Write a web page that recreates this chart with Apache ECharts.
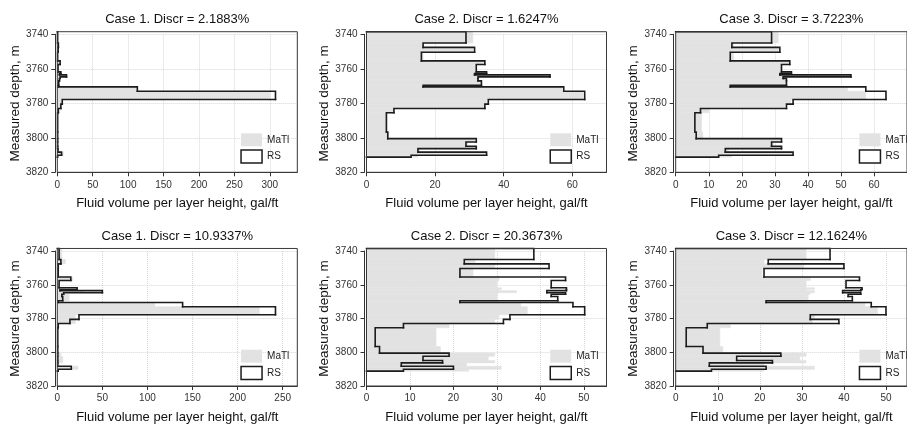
<!DOCTYPE html>
<html>
<head>
<meta charset="utf-8">
<script src="https://cdn.jsdelivr.net/npm/echarts@6/dist/echarts.min.js"></script>
<style>
  html, body { margin: 0; padding: 0; background: #ffffff; }
  #chart { width: 907px; height: 425px; }
</style>
</head>
<body>
<div id="chart"></div>
<script>
// Layer boundaries (measured depth, m): layer i spans LAYER_BOUNDS[i]..LAYER_BOUNDS[i+1]
const LAYER_BOUNDS = [3738.5, 3745.0, 3747.6, 3750.4, 3755.4, 3757.5, 3761.8, 3762.8, 3763.5,
  3764.7, 3765.6, 3767.0, 3769.5, 3770.5, 3773.0, 3777.8, 3780.5, 3783.0, 3785.5, 3796.6,
  3800.5, 3802.4, 3804.9, 3806.3, 3808.3, 3810.1, 3811.2];

// Depth axis ticks
const DEPTH_MIN = 3740;
const DEPTH_MAX = 3820;
const DEPTH_STEP = 20;

// Fluid volume per layer height (gal/ft), one value per layer
const MATL_TOP_1 = [0.5, 1.5, 1.2, 0.5, 3.5, 1, 4.5, 3, 12, 4, 3, 2, 1, 112, 300, 7, 5, 1.5, 0.5, 0.5, 0.5, 0.5, 0.5, 1, 8.5, 0.5];
const RS_TOP_1   = [0.5, 1.5, 1.2, 0.5, 4, 1, 5, 3, 13, 4, 3, 2, 1, 113, 308, 7, 5, 1.5, 0.5, 0.5, 0.5, 0.5, 0.5, 1, 6, 0.5];

const MATL_TOP_2 = [31, 16.5, 31, 16.5, 34, 32, 35, 31.5, 52, 32.5, 32.5, 33.5, 16.5, 57, 63, 35, 34.5, 8, 6, 6.5, 31.5, 29.5, 32, 15.5, 35, 15];
const RS_TOP_2   = [29, 16.5, 31.5, 16, 34.5, 32, 35, 31.5, 53.5, 32.5, 32.5, 33.5, 16.5, 57.5, 63.6, 35.5, 34.5, 8, 5.8, 6.2, 32, 29, 32, 15, 35, 13];

const MATL_TOP_3 = [31, 17.5, 31, 17.5, 34, 32, 34.5, 31.5, 50, 32.5, 33, 33.5, 17, 52, 57.5, 34.8, 33, 10, 7.8, 8.2, 31.5, 29.5, 32, 16, 35, 17];
const RS_TOP_3   = [29, 17, 31.5, 16.5, 34.5, 32, 35, 31.5, 53, 32.5, 33.5, 33.5, 16.5, 57.5, 63.6, 35.5, 33.5, 7.5, 5.8, 6.2, 32, 29, 32, 15, 35.5, 13];

const MATL_BOT_1 = [5, 9, 2, 1.5, 17, 2, 6, 3, 30, 6, 13, 13, 2, 108, 224, 20, 20, 2, 1, 1, 4, 6, 6, 2, 23, 1];
const RS_BOT_1   = [2, 4, 1, 1, 15, 2, 22, 3, 50, 7, 5, 6, 1, 139, 242, 24, 14, 1, 0.5, 0.5, 0.5, 0.5, 0.5, 0.5, 15.5, 1];

const MATL_BOT_2 = [29.5, 25, 29.5, 24.5, 30.5, 30, 31, 30.5, 34.5, 30, 30, 30, 30, 35.5, 37, 30.5, 29.5, 19, 16, 17, 29.5, 28, 29.5, 23, 31, 23.5];
const RS_BOT_2   = [38.5, 22.5, 42, 21.5, 45.8, 42.5, 46, 46, 41.5, 45.8, 42.5, 44, 21.5, 47.5, 50.2, 33, 31.5, 8.5, 2, 3, 19, 13, 17.5, 8, 20, 8.5];

const MATL_BOT_3 = [31, 21, 30.5, 20.5, 32, 31, 33, 31, 33, 32, 31.5, 31.5, 31, 45, 48, 33, 32.5, 13, 10.5, 11.2, 31, 29.5, 31, 21, 33, 21];
const RS_BOT_3   = [36.7, 22, 40, 21, 43.7, 40.5, 44.3, 44, 39.7, 44, 41, 42, 21.5, 46.5, 50, 32, 38.8, 7.5, 2.5, 6.5, 25, 14.5, 23, 8, 21.5, 8.5];

const PANEL_TITLES = [
  'Case 1. Discr = 2.1883%', 'Case 2. Discr = 1.6247%', 'Case 3. Discr = 3.7223%',
  'Case 1. Discr = 10.9337%', 'Case 2. Discr = 20.3673%', 'Case 3. Discr = 12.1624%'
];
const X_TICK_STEP = [50, 20, 10, 50, 10, 10];
const X_AXIS_NAME = 'Fluid volume per layer height, gal/ft';
const Y_AXIS_NAME = 'Measured depth, m';
const SERIES_NAMES = ['MaTl', 'RS'];

// ---- layout & style ----
const FONT = '"Liberation Sans", Arial, Helvetica, sans-serif';
const COL_LEFT = [57.3, 366.5, 675.7];
const PLOT_W = 240;
const ROW_TOP = [34.3, 251];
const PLOT_H = [138, 137.7];
const FILL_GRAY = '#e2e2e2';
const LINE_DARK = '#1c1c1c';
const AXIS_COLOR = '#333333';

const MATL = [MATL_TOP_1, MATL_TOP_2, MATL_TOP_3, MATL_BOT_1, MATL_BOT_2, MATL_BOT_3];
const RS = [RS_TOP_1, RS_TOP_2, RS_TOP_3, RS_BOT_1, RS_BOT_2, RS_BOT_3];

// One record per layer: [value, top depth, bottom depth]
function layerRows(vals) {
  return vals.map((v, i) => [v, LAYER_BOUNDS[i], LAYER_BOUNDS[i + 1]]);
}
// Outline pieces: [value, top, bottom, value of the layer above (0 for the first), last-layer flag]
function outlineRows(vals) {
  return vals.map((v, i) => [v, LAYER_BOUNDS[i], LAYER_BOUNDS[i + 1], i === 0 ? 0 : vals[i - 1], i === vals.length - 1 ? 1 : 0]);
}
function renderLayer(params, api) {
  const p0 = api.coord([0, api.value(1)]);
  const p1 = api.coord([api.value(0), api.value(2)]);
  return {
    type: 'rect',
    shape: { x: p0[0], y: p0[1], width: p1[0] - p0[0], height: p1[1] - p0[1] },
    style: { fill: FILL_GRAY, stroke: FILL_GRAY, lineWidth: 0.6 }
  };
}
function renderOutline(params, api) {
  const v = api.value(0), top = api.value(1), bot = api.value(2);
  const pts = [api.coord([api.value(3), top]), api.coord([v, top]), api.coord([v, bot])];
  if (api.value(4) === 1) pts.push(api.coord([0, bot]));
  return {
    type: 'polyline',
    shape: { points: pts },
    style: { stroke: LINE_DARK, lineWidth: 1.6, fill: null, lineJoin: 'miter', lineCap: 'square' }
  };
}

const grids = [], xAxes = [], yAxes = [], series = [], legends = [];
for (let i = 0; i < 6; i++) {
  const row = Math.floor(i / 3), col = i % 3;
  const left = COL_LEFT[col], top = ROW_TOP[row], h = PLOT_H[row];
  const xMax = 1.1 * Math.max(...MATL[i], ...RS[i]);
  grids.push({ left: left, top: top, width: PLOT_W, height: h, show: false });
  xAxes.push({
    gridIndex: i, type: 'value', min: 0, max: xMax, interval: X_TICK_STEP[i],
    name: X_AXIS_NAME, nameLocation: 'middle', nameGap: 25,
    nameTextStyle: { fontFamily: FONT, fontSize: 13, color: '#111' },
    axisLine: { show: true, onZero: false, lineStyle: { color: AXIS_COLOR, width: 1 } },
    axisTick: { show: true, length: 4, lineStyle: { color: AXIS_COLOR } },
    axisLabel: { fontFamily: FONT, fontSize: 10, color: '#333', margin: 7.5, showMaxLabel: false,
      formatter: (v) => String(v) },
    splitLine: { show: true, lineStyle: { type: 'dotted', color: '#d6d6d6', width: 1 } }
  });
  yAxes.push({
    gridIndex: i, type: 'value', inverse: true, min: DEPTH_MIN, max: DEPTH_MAX, interval: DEPTH_STEP,
    offset: 2,
    name: Y_AXIS_NAME, nameLocation: 'middle', nameGap: 30,
    nameTextStyle: { fontFamily: FONT, fontSize: 13.5, color: '#111' },
    axisLine: { show: true, onZero: false, lineStyle: { color: AXIS_COLOR, width: 1 } },
    axisTick: { show: true, length: 4, lineStyle: { color: AXIS_COLOR } },
    axisLabel: { fontFamily: FONT, fontSize: 10, color: '#333', margin: 7, formatter: (v) => String(v) },
    splitLine: { show: true, lineStyle: { type: 'dotted', color: '#d6d6d6', width: 1 } }
  });
  series.push({
    name: SERIES_NAMES[0], type: 'custom', xAxisIndex: i, yAxisIndex: i,
    data: layerRows(MATL[i]), encode: { x: 0, y: [1, 2] },
    renderItem: renderLayer, itemStyle: { color: FILL_GRAY }, clip: false, z: 1, silent: true
  });
  series.push({
    name: SERIES_NAMES[1], type: 'custom', xAxisIndex: i, yAxisIndex: i,
    data: outlineRows(RS[i]), encode: { x: 0, y: [1, 2] },
    renderItem: renderOutline, clip: false, z: 3, silent: true,
    itemStyle: { color: '#ffffff', borderColor: LINE_DARK, borderWidth: 1.5 }
  });
  legends.push({
    orient: 'vertical', left: left + PLOT_W - 57, top: top + h - 39,
    itemWidth: 21, itemHeight: 13, itemGap: 3, padding: 0, selectedMode: false,
    textStyle: { fontFamily: FONT, fontSize: 10, color: '#222' },
    data: [
      { name: SERIES_NAMES[0], icon: 'rect', itemStyle: { color: FILL_GRAY, borderWidth: 0 } },
      { name: SERIES_NAMES[1], icon: 'rect', itemStyle: { color: '#ffffff', borderColor: LINE_DARK, borderWidth: 1.5 } }
    ]
  });
}

const chart = echarts.init(document.getElementById('chart'), null, { renderer: 'canvas' });
chart.setOption({
  animation: false,
  backgroundColor: '#ffffff',
  textStyle: { fontFamily: FONT },
  grid: grids, xAxis: xAxes, yAxis: yAxes, series: series, legend: legends
});

// Panel frames and titles, placed through each panel's own axes
const graphics = [];
for (let i = 0; i < 6; i++) {
  const xMax = xAxes[i].max;
  const tl = chart.convertToPixel({ xAxisIndex: i, yAxisIndex: i }, [0, LAYER_BOUNDS[0]]);
  const br = chart.convertToPixel({ xAxisIndex: i, yAxisIndex: i }, [xMax, DEPTH_MAX]);
  graphics.push({
    type: 'rect', silent: true, z: 10,
    shape: { x: tl[0], y: tl[1], width: br[0] - tl[0], height: br[1] - tl[1] },
    style: { fill: 'none', stroke: '#3a3a3a', lineWidth: 1 }
  });
  const ttl = chart.convertToPixel({ xAxisIndex: i, yAxisIndex: i }, [xMax / 2, DEPTH_MIN]);
  graphics.push({
    type: 'text', silent: true, z: 10, x: ttl[0], y: ttl[1] - 15,
    style: { text: PANEL_TITLES[i], fontFamily: FONT, fontSize: 13, fill: '#111', align: 'center', verticalAlign: 'middle' }
  });
}
chart.setOption({ graphic: graphics });
</script>
</body>
</html>
